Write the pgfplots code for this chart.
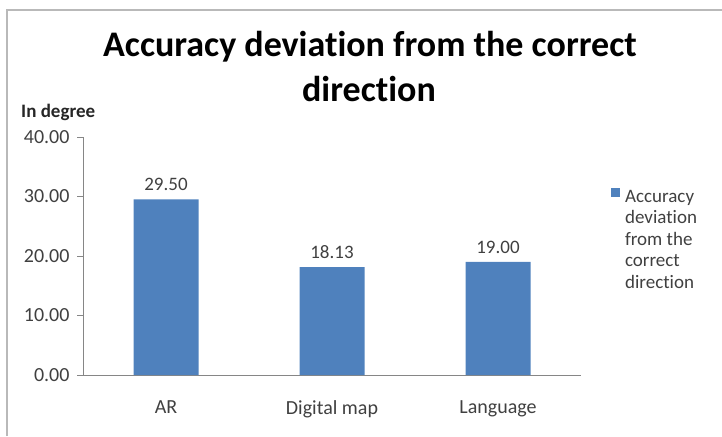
\documentclass[border=0pt]{standalone}
\usepackage{pgfplots}
\pgfplotsset{compat=1.18}
\usepackage{fontspec}
\setmainfont{Carlito}[Ligatures={NoCommon}]
\definecolor{barblue}{HTML}{4F81BD}
\definecolor{txtgray}{HTML}{404040}
\definecolor{axgray}{HTML}{868686}
\begin{document}
\begin{tikzpicture}
\path[use as bounding box] (0,0) rectangle (722pt,436pt);
\draw[gray!55, line width=1.5pt] (7pt,0pt) -- (7pt,426pt) -- (722pt,426pt);
\node[font=\fontsize{36}{40}\selectfont\bfseries, anchor=base, inner sep=0pt] at (370pt,379pt) {Accuracy deviation from the correct};
\node[font=\fontsize{36}{40}\selectfont\bfseries, anchor=base, inner sep=0pt] at (369pt,334pt) {direction};
\node[font=\fontsize{19}{22}\selectfont\bfseries, anchor=base west, text=black!85, inner sep=0pt] at (21pt,318pt) {In degree};
\begin{axis}[
  at={(83pt,61pt)}, anchor=south west,
  scale only axis, width=498pt, height=238pt,
  xmin=-0.5, xmax=2.5, ymin=0, ymax=40,
  axis x line=bottom, axis y line=left,
  axis line style={-, axgray, line width=0.8pt},
  ytick={0,10,20,30,40},
  xtick={0,1,2}, xticklabels={AR, Digital map, Language},
  x tick style={draw=none},
  extra x ticks={0.5,1.5,2.5}, extra x tick labels={},
  extra x tick style={tick style={draw=axgray, line width=0.8pt}, major tick length=6pt, tick align=outside},
  y tick style={axgray, line width=0.8pt},
  major tick length=6pt, tick align=outside,
  ticklabel style={font=\fontsize{20}{22}\selectfont, text=txtgray},
  yticklabel style={xshift=-4pt},
  xticklabel style={yshift=-16pt},
  /pgf/number format/.cd, fixed, fixed zerofill, precision=2, assume math mode=true,
  /pgfplots/.cd,
  legend style={at={(1.060,0.788)}, anchor=north west, draw=none, fill=none,
    font=\fontsize{19}{21.5}\selectfont, text=txtgray, inner sep=0pt, row sep=0pt,
    nodes={inner sep=2pt}},
  legend image code/.code={\fill[barblue] (0pt,0pt) rectangle (9pt,9pt); \path (12pt,0pt);},
  clip=false,
]
\addplot[ybar, fill=barblue, draw=none, bar width=65pt,
  nodes near coords,
  every node near coord/.append style={font=\fontsize{19}{22}\selectfont, text=txtgray, yshift=5pt}]
  coordinates {(0,29.50) (1,18.13) (2,19.00)};
\addlegendentry{\parbox[t]{90pt}{\raggedright Accuracy\\deviation\\from the\\correct\\direction}}
\end{axis}
\end{tikzpicture}
\end{document}
